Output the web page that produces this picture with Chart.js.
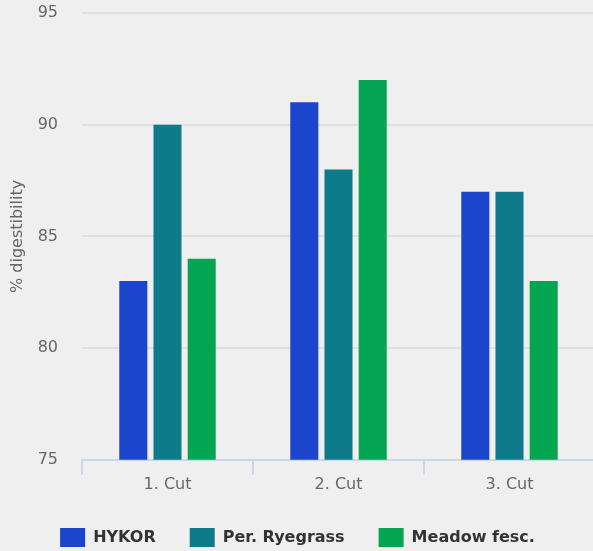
<!DOCTYPE html>
<html>
<head>
<meta charset="utf-8">
<script src="https://cdn.jsdelivr.net/npm/chart.js@4"></script>
<style>
html,body{margin:0;padding:0;background:#efefef;overflow:hidden;}
canvas{display:block;}
</style>
</head>
<body>
<canvas id="c" width="596" height="551" style="width:596px;height:551px"></canvas>
<script>
const categories = ['1. Cut', '2. Cut', '3. Cut'];
const seriesNames = ['HYKOR', 'Per. Ryegrass', 'Meadow fesc.'];
const hykor = [83, 91, 87];
const ryegrass = [90, 88, 87];
const meadow = [84, 92, 83];
const colors = ['#1a45cc', '#0e7b8a', '#03a552'];
const yMin = 75, yMax = 95, yStep = 5;
const yTitle = '% digestibility';

const FONT = '"DejaVu Sans", sans-serif';
const values = [hykor, ryegrass, meadow];

new Chart(document.getElementById('c'), {
  type: 'bar',
  data: {
    labels: categories,
    datasets: seriesNames.map((n, i) => ({
      label: n,
      data: values[i],
      backgroundColor: colors[i],
      borderWidth: 0,
      categoryPercentage: 0.6,
      barPercentage: 0.82
    }))
  },
  options: {
    responsive: false,
    animation: false,
    devicePixelRatio: 1,
    layout: { padding: { top: 13, right: 1, bottom: -6, left: 0 } },
    plugins: {
      tooltip: { enabled: false },
      legend: {
        position: 'bottom',
        labels: {
          boxWidth: 25,
          boxHeight: 19,
          padding: 34,
          color: '#333',
          font: { family: FONT, size: 16, weight: 'bold' }
        }
      }
    },
    scales: {
      x: {
        grid: {
          offset: true,
          drawOnChartArea: false,
          drawTicks: true,
          tickLength: 15,
          lineWidth: 2,
          color: '#ccd6eb'
        },
        border: { color: '#ccd6eb', width: 2 },
        ticks: { color: '#666', font: { family: FONT, size: 16 }, padding: 0 }
      },
      y: {
        min: yMin, max: yMax,
        afterFit: (s) => { s.width = 82; s.paddingTop = 0; s.paddingBottom = 0; },
        grid: { color: '#e0e0e0', lineWidth: 2, drawTicks: false },
        border: { display: false },
        ticks: { stepSize: yStep, color: '#666', font: { family: FONT, size: 16 }, padding: 24 },
        title: { display: true, text: yTitle, color: '#666', font: { family: FONT, size: 16 }, padding: { top: 8, bottom: 0 } }
      }
    }
  }
});
</script>
</body>
</html>
